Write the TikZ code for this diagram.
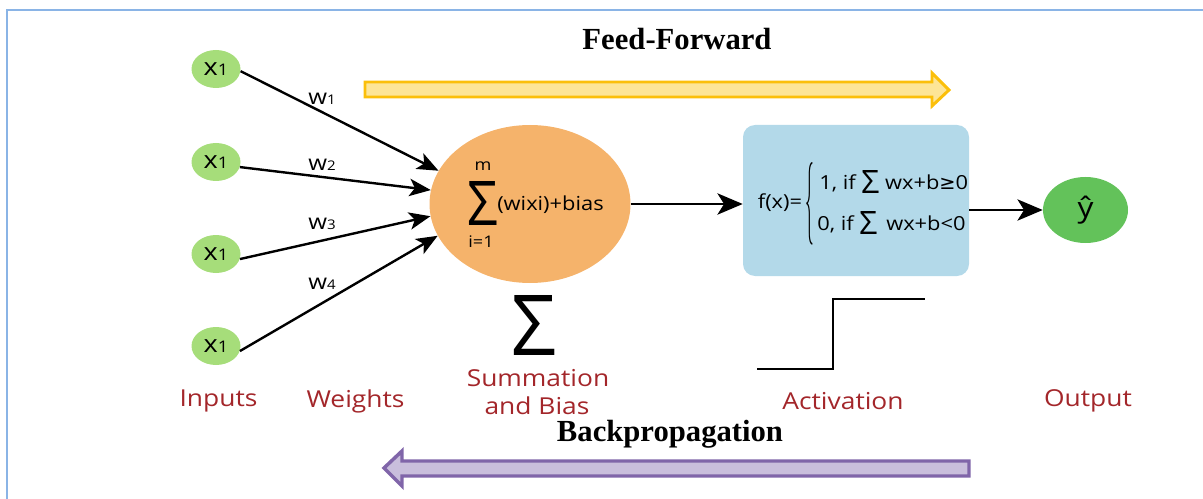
\documentclass[tikz,border=0pt]{standalone}
\usepackage{fontspec}
\usepackage{graphicx}
\setmainfont{Open Sans}
\newfontfamily\lab[FakeStretch=1.13]{Open Sans}
\newfontfamily\ttl{Liberation Serif}
\newfontfamily\sym{DejaVu Sans}
\usetikzlibrary{arrows.meta,shapes.geometric}

\definecolor{framebl}{HTML}{8AB4E6}
\definecolor{ingreen}{HTML}{A6DD7A}
\definecolor{sumorange}{HTML}{F5B36B}
\definecolor{actblue}{HTML}{B3D9E9}
\definecolor{outgreen}{HTML}{63C25A}
\definecolor{labred}{HTML}{A3262A}
\definecolor{ffill}{HTML}{FDE597}
\definecolor{fline}{HTML}{FBBF0A}
\definecolor{bfill}{HTML}{C9BEDC}
\definecolor{bline}{HTML}{8065A9}

% small index digit set on the baseline
\newcommand\isub[2]{{\fontsize{#1}{#1}\selectfont #2}}
% a summation sign stretched to a given box
\newcommand\sigbox[2]{\resizebox{#1}{#2}{\lab Σ}}

\begin{document}
\begin{tikzpicture}[x=0.75pt,y=-0.75pt,
  inp/.style={ellipse, fill=ingreen, minimum width=36.75pt, minimum height=28.5pt,
    inner sep=0pt, font=\lab\fontsize{18}{18}\selectfont},
  wlabel/.style={font=\lab\fontsize{16}{16}\selectfont, inner sep=0pt},
  wire/.style={line width=1.8pt, -{Stealth[length=16pt,width=13pt,inset=4pt]}},
  bigwire/.style={line width=1.6pt, -{Stealth[length=19pt,width=16pt,inset=5pt]}},
  lbl/.style={text=labred, font=\lab\fontsize{17.5}{21}\selectfont, inner sep=0pt},
  ttlbl/.style={font=\ttl\bfseries\fontsize{23}{23}\selectfont, inner sep=0pt},
  mtext/.style={font=\lab\fontsize{14.5}{14.5}\selectfont, inner sep=0pt},
]
\useasboundingbox (0,0) rectangle (1203,499);

% frame
\draw[framebl, line width=1.5pt] (7,499) -- (7,10) -- (1203,10);

% inputs
\node[inp] (x1) at (216,69)  {x\isub{12}{1}};
\node[inp] (x2) at (216,162) {x\isub{12}{1}};
\node[inp] (x3) at (216,254) {x\isub{12}{1}};
\node[inp] (x4) at (216,346) {x\isub{12}{1}};

% summation unit
\node[ellipse, fill=sumorange, minimum width=150.75pt, minimum height=118.5pt, inner sep=0pt]
  (sum) at (530,204) {};
\node[inner sep=0pt] (sig) at (482.5,203.5) {\sigbox{23pt}{33pt}};
\node[mtext, font=\lab\fontsize{12}{12}\selectfont] (top) at (483,166) {m};
\node[mtext, font=\lab\fontsize{12}{12}\selectfont] (bot) at (481,242) {i=1};
\node[mtext, anchor=west] (wsum) at (497,205) {(wixi)+bias};

% weighted connections
\draw[wire] (x1.-5)  -- (sum.160);
\draw[wire] (x2.-12) -- (sum.172);
\draw[wire] (x3.-12) -- (sum.187);
\draw[wire] (x4.-12) -- (sum.199);

\node[wlabel] (w1) at (322,99)  {w\isub{10}{1}};
\node[wlabel] (w2) at (322,165) {w\isub{10}{2}};
\node[wlabel] (w3) at (322,224) {w\isub{10}{3}};
\node[wlabel] (w4) at (322,284) {w\isub{10}{4}};

% activation unit
\node[fill=actblue, rounded corners=9pt, minimum width=169.5pt, minimum height=113.25pt, inner sep=0pt]
  (box) at (856,200.5) {};
\node[mtext] (fx) at (780,203) {f(x)=};
\node[inner sep=0pt] (brace) at (810,204) {\scalebox{1.3}[6.2]{$\{$}};
\node[mtext, anchor=west] (l1) at (819,182) {1, if \raisebox{-3pt}{\sigbox{13.5pt}{17.25pt}} wx+b{\sym ≥}0};
\node[mtext, anchor=west] (l2) at (817,223) {0, if \raisebox{-3pt}{\sigbox{13.5pt}{17.25pt}}\ \,wx+b<0};

% output
\node[ellipse, fill=outgreen, minimum width=63.75pt, minimum height=49.5pt, inner sep=0pt,
  font=\lab\fontsize{21}{21}\selectfont] (out) at (1085.5,210) {ŷ};

\draw[bigwire] (sum.east) -- (sum.east -| box.west);
\draw[bigwire] (out.west -| box.east) -- (out.west);

% step function
\draw[line width=2.2pt] (757,369) -- (833,369) -- (833,299) -- (925,299);

% large summation sign
\node[inner sep=0pt] (bigsig) at (534.5,325) {\sigbox{33.75pt}{45pt}};

% captions
\node[lbl] (cin)  at (218.5,401) {Inputs};
\node[lbl] (cw)   at (355.5,401) {Weights};
\node[lbl] (cs1)  at (538,378)   {Summation};
\node[lbl] (cs2)  at (537,406)   {and Bias};
\node[lbl] (cact) at (843,401)   {Activation};
\node[lbl] (cout) at (1088,401)  {Output};

% direction arrows
\draw[fline, fill=ffill, line width=2.2pt, line join=miter]
  (365,82) -- (932,82) -- (932,73) -- (949,90) -- (932,106) -- (932,97) -- (365,97) -- cycle;
\node[ttlbl] (ff) at (677,39) {Feed-Forward};

\draw[bline, fill=bfill, line width=2.6pt, line join=miter]
  (969,461) -- (402,461) -- (402,451) -- (384,468) -- (402,486) -- (402,476) -- (969,476) -- cycle;
\node[ttlbl] (bp) at (670,434) {Backpropagation};
\end{tikzpicture}
\end{document}
